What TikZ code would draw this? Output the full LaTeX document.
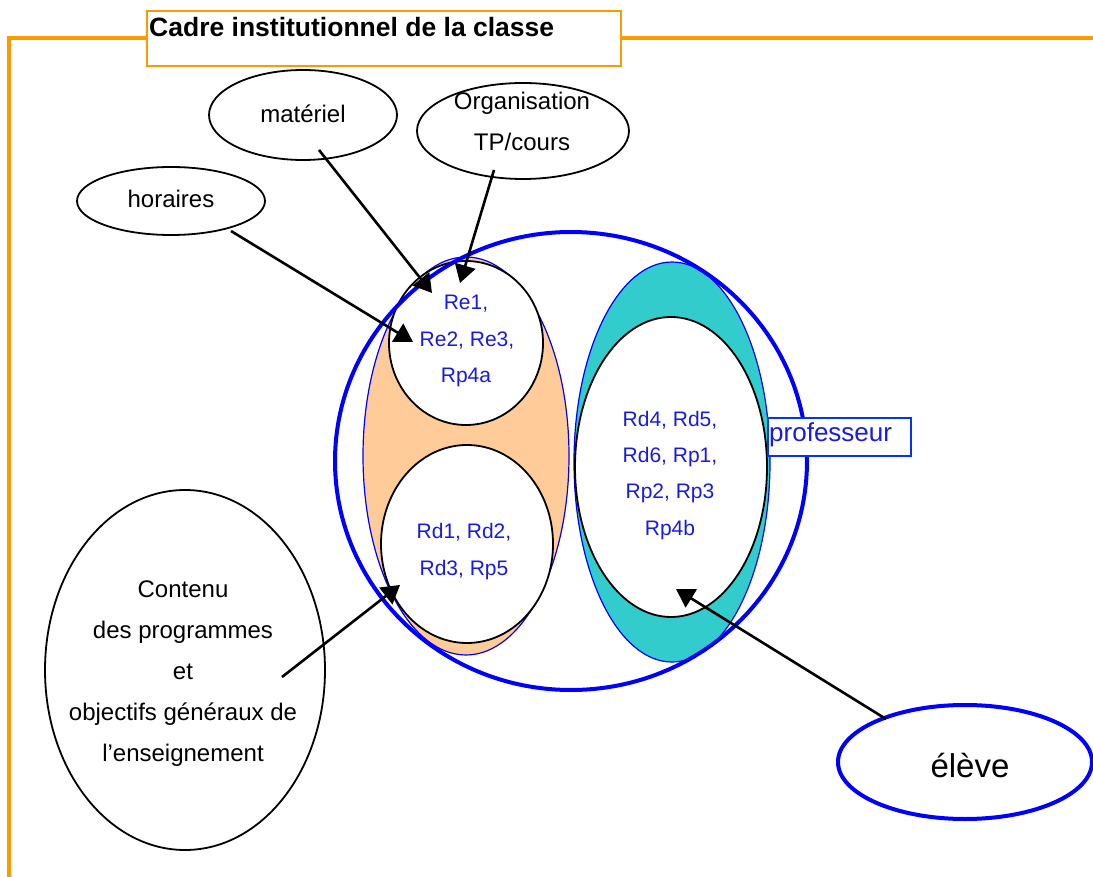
\documentclass[tikz,border=0pt]{standalone}
\usepackage{fontspec}
\setmainfont{Liberation Sans}
\usetikzlibrary{shapes.geometric,arrows.meta}
\definecolor{frameorange}{HTML}{FF9900}
\definecolor{peach}{HTML}{FFCC99}
\definecolor{teal2}{HTML}{33CCCC}
\definecolor{txtblue}{HTML}{1A1AE6}
\tikzset{
  ell/.style={ellipse, draw=black, line width=1.8pt, fill=white, inner sep=0pt},
  esize/.style 2 args={minimum width=#1pt, minimum height=#2pt},
  blk/.style={font=\fontsize{24}{24}\selectfont, text=black, inner sep=0pt, anchor=base},
  blu/.style={font=\fontsize{21}{21}\selectfont, text=txtblue, inner sep=0pt, anchor=base},
  arr/.style={line width=2.6pt, -{Triangle[length=18pt,width=21pt]}},
}
\begin{document}
\begin{tikzpicture}[x=1pt,y=-1pt]
\useasboundingbox (0,0) rectangle (1093,877);
% orange frame
\draw[frameorange, line width=3.2pt] (9,877) -- (9,38) -- (146,38);
\draw[frameorange, line width=3.2pt] (620,38) -- (1093,38);
\node[draw=frameorange, line width=1.8pt, fill=white, minimum width=474pt, minimum height=55pt, inner sep=0pt, anchor=north west] (titlebox) at (146,10) {};
\node[font=\fontsize{26.5}{26.5}\selectfont\bfseries, inner sep=0pt, anchor=base west] (title) at (149,37) {Cadre institutionnel de la classe};

% central structure
\node[ellipse, draw=blue, line width=1.2pt, fill=peach, esize={206}{398}, inner sep=0pt] (orange) at (466,456) {};
\node[ellipse, draw=blue, line width=1.2pt, fill=teal2, esize={196}{400}, inner sep=0pt] (teal) at (672,462) {};
\node[ell, esize={154}{164}] (topw) at (466,343) {};
\node[ell, esize={172}{198}] (botw) at (467,544) {};
\node[ell, esize={192}{300}] (rightw) at (671,467) {};
\node[ellipse, draw=blue, line width=4pt, esize={472}{458}, inner sep=0pt] (big) at (571,461) {};
\node[draw=blue!80!cyan, line width=1.5pt, fill=white, minimum width=143pt, minimum height=38pt, inner sep=0pt, anchor=north west] (profbox) at (767,417) {};
\node[font=\fontsize{26}{26}\selectfont, text=txtblue, inner sep=0pt, anchor=base west] (prof) at (769,442) {professeur};

% blue labels
\node[blu] (re1) at (466,310) {Re1,};
\node[blu] (re2) at (467,347) {Re2, Re3,};
\node[blu] (rp4a) at (466,383) {Rp4a};
\node[blu] (rd1) at (464,538) {Rd1, Rd2,};
\node[blu] (rd3) at (464,575) {Rd3, Rp5};
\node[blu] (rd4) at (670,426) {Rd4, Rd5,};
\node[blu] (rd6) at (670,462) {Rd6, Rp1,};
\node[blu] (rp2) at (670,498) {Rp2, Rp3};
\node[blu] (rp4b) at (670,535) {Rp4b};

% outer ellipses
\node[ell, esize={188}{90}] (mat) at (303,115) {};
\node[blk] (mattxt) at (303,123) {matériel};
\node[ell, esize={212}{96}] (org) at (523,131) {};
\node[blk] (orgtxt1) at (522,110) {Organisation};
\node[blk] (orgtxt2) at (522,151) {TP/cours};
\node[ell, esize={188}{68}] (hor) at (171,201) {};
\node[blk] (hortxt) at (171,208) {horaires};
\node[ell, esize={280}{360}] (con) at (185,670) {};
\node[blk] (c1) at (183,597) {Contenu};
\node[blk] (c2) at (183,638) {des programmes};
\node[blk] (c3) at (183,679) {et};
\node[blk] (c4) at (183,720) {objectifs généraux de};
\node[blk] (c5) at (183,761) {l’enseignement};
\node[ellipse, draw=blue, line width=4pt, fill=white, esize={254}{114}, inner sep=0pt] (eleve) at (965,762) {};
\node[font=\fontsize{33}{33}\selectfont, inner sep=0pt, anchor=base] (elevetxt) at (970,777) {élève};

% arrows
\coordinate (matS) at (319,150);
\coordinate (matT) at (432,293);
\coordinate (orgS) at (494,170);
\coordinate (orgT) at (460,283);
\coordinate (horS) at (231,231);
\coordinate (horT) at (413,342);
\coordinate (conS) at (282,677);
\coordinate (conT) at (400,585);
\coordinate (eleS) at (886,719);
\coordinate (eleT) at (676,589);
\draw[arr] (matS) -- (matT);
\draw[arr] (orgS) -- (orgT);
\draw[arr] (horS) -- (horT);
\draw[arr] (conS) -- (conT);
\draw[arr] (eleS) -- (eleT);
\end{tikzpicture}
\end{document}
